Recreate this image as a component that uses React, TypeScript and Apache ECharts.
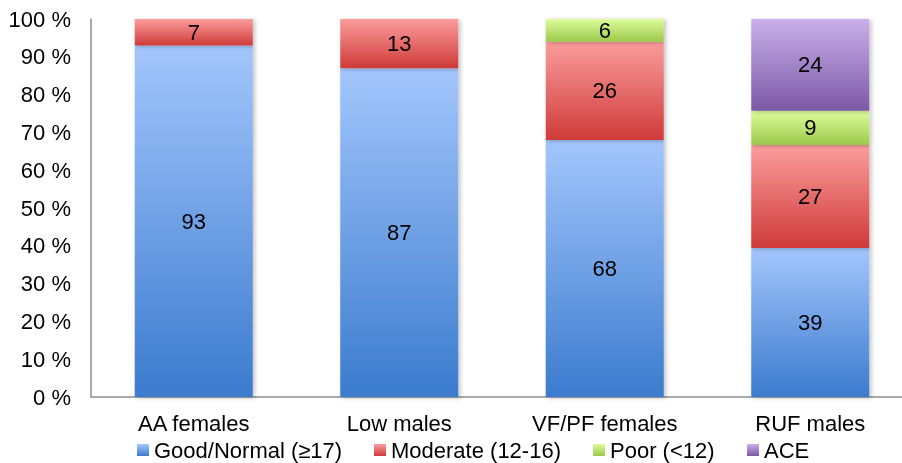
import React, { useEffect, useRef } from "react";
import * as echarts from "echarts";

const categories = ["AA females", "Low males", "VF/PF females", "RUF males"];
const seriesNames = ["Good/Normal (≥17)", "Moderate (12-16)", "Poor (<12)", "ACE"];
const good = [93, 87, 68, 39];
const moderate = [7, 13, 26, 27];
const poor = [0, 0, 6, 9];
const ace = [0, 0, 0, 24];
const yTicks = [0, 10, 20, 30, 40, 50, 60, 70, 80, 90, 100];

const gradients: [string, string][] = [
  ["#a3c6fc", "#3b7bce"],
  ["#fb9d9c", "#cf3a39"],
  ["#defc9c", "#9bc94b"],
  ["#c9b0ea", "#7b58a6"],
];
const legendLefts = [137, 374, 593, 747];

export default function App() {
  const ref = useRef<HTMLDivElement>(null);
  useEffect(() => {
    if (!ref.current) return;
    const chart = echarts.init(ref.current, undefined, { renderer: "svg" });
    const raw = [good, moderate, poor, ace];
    const totals = categories.map((_, i) => raw.reduce((s, a) => s + a[i], 0));
    const grad = (c: [string, string]) =>
      new echarts.graphic.LinearGradient(0, 0, 0, 1, [
        { offset: 0, color: c[0] },
        { offset: 1, color: c[1] },
      ]);
    const font = "Liberation Sans, Arial, sans-serif";
    chart.setOption({
      animation: false,
      textStyle: { fontFamily: font },
      grid: { left: 91, top: 19, width: 822, height: 378, containLabel: false },
      xAxis: {
        type: "category",
        data: categories,
        axisLine: { lineStyle: { color: "#8c8c8c", width: 1.5 } },
        axisTick: { show: false },
        axisLabel: { color: "#000", fontSize: 22, margin: 15, fontFamily: font },
      },
      yAxis: {
        type: "value",
        min: 0,
        max: 100,
        interval: 10,
        axisLine: { show: true, lineStyle: { color: "#8c8c8c", width: 1.5 } },
        axisTick: { show: false },
        splitLine: { show: false },
        axisLabel: {
          color: "#000",
          fontSize: 22,
          margin: 20,
          fontFamily: font,
          formatter: (v: number) => (yTicks.includes(v) ? `${v} %` : ""),
        },
      },
      legend: seriesNames.map((name, i) => ({
        left: legendLefts[i],
        top: 439,
        padding: 0,
        itemWidth: 12,
        itemHeight: 12,
        icon: "rect",
        textStyle: { fontSize: 22, color: "#000", fontFamily: font, padding: [0, 0, 0, 0] },
        data: [name],
      })),
      series: raw.map((arr, si) => ({
        name: seriesNames[si],
        type: "bar",
        stack: "total",
        barWidth: 118,
        data: arr.map((v, i) => ({
          value: v === 0 ? null : (v / totals[i]) * 100,
        })),
        itemStyle: {
          color: grad(gradients[si]),
          shadowColor: "rgba(0,0,0,0.25)",
          shadowBlur: 4,
          shadowOffsetX: 2,
          shadowOffsetY: 1,
        },
        label: {
          show: true,
          position: "inside",
          color: "#000",
          fontSize: 22,
          fontFamily: font,
          formatter: (p: any) => String(arr[p.dataIndex]),
        },
      })),
    });
    return () => chart.dispose();
  }, []);
  return (
    <div
      ref={ref}
      style={{ position: "fixed", left: 0, top: 0, width: 916, height: 463 }}
    />
  );
}
